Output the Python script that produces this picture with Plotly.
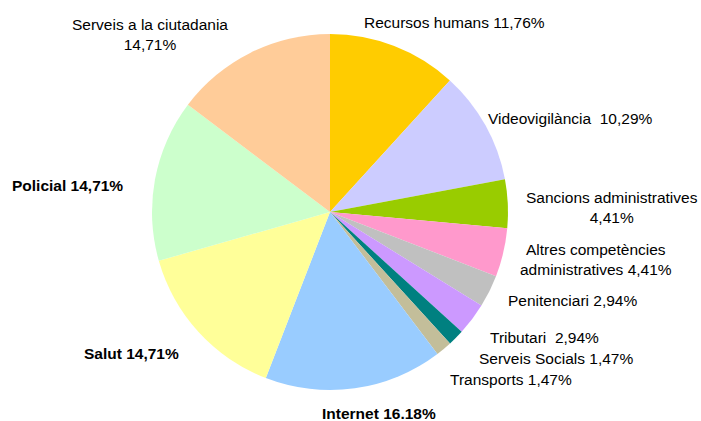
import plotly.graph_objects as go

categories = ["Recursos humans", "Videovigilància", "Sancions administratives",
              "Altres competències administratives", "Penitenciari", "Tributari",
              "Serveis Socials", "Transports", "Internet", "Salut", "Policial",
              "Serveis a la ciutadania"]
percentages = [11.76, 10.29, 4.41, 4.41, 2.94, 2.94, 1.47, 1.47, 16.18, 14.71, 14.71, 14.71]
label_texts = ["Recursos humans 11,76%", "Videovigilància  10,29%",
               "Sancions administratives<br>4,41%",
               "Altres competències<br>administratives 4,41%",
               "Penitenciari 2,94%", "Tributari  2,94%", "Serveis Socials 1,47%",
               "Transports 1,47%", "Internet 16.18%", "Salut 14,71%", "Policial 14,71%",
               "Serveis a la ciutadania<br>14,71%"]

colors = ["#FFCC00", "#CCCCFF", "#99CC00", "#FF99CC", "#C0C0C0", "#CC99FF",
          "#008080", "#C3BE9A", "#99CCFF", "#FFFF99", "#CCFFCC", "#FFCC99"]
bold = [False, False, False, False, False, False, False, False, True, True, True, False]
# label centre positions in pixels (x from left, y from top)
label_pos = [(454, 23), (570, 118), (612, 207), (596, 259), (572, 300), (544, 337),
             (556, 358), (511, 379), (379, 413), (131, 353), (67, 186), (150, 34)]

W, H = 701, 421
cx, cy, r = 330, 212, 178

fig = go.Figure(go.Pie(
    labels=categories, values=percentages, sort=False, direction="clockwise",
    rotation=0, textinfo="none", hoverinfo="label+percent",
    marker=dict(colors=colors, line=dict(width=0)),
    domain=dict(x=[(cx - r) / W, (cx + r) / W], y=[(H - cy - r) / H, (H - cy + r) / H]),
    showlegend=False,
))

for txt, (px, py), b in zip(label_texts, label_pos, bold):
    fig.add_annotation(x=px / W, y=1 - py / H, xref="paper", yref="paper",
                       text=txt, showarrow=False, xanchor="center", yanchor="middle",
                       align="center",
                       font=dict(family="Liberation Sans, Arial", size=15.5, color="black",
                                 weight="bold" if b else "normal"))

fig.update_layout(width=W, height=H, margin=dict(l=0, r=0, t=0, b=0),
                  paper_bgcolor="white", plot_bgcolor="white")
fig.write_html("out.html", config={"displayModeBar": False},
               post_script="document.body.style.margin='0';document.body.style.overflow='hidden';")
